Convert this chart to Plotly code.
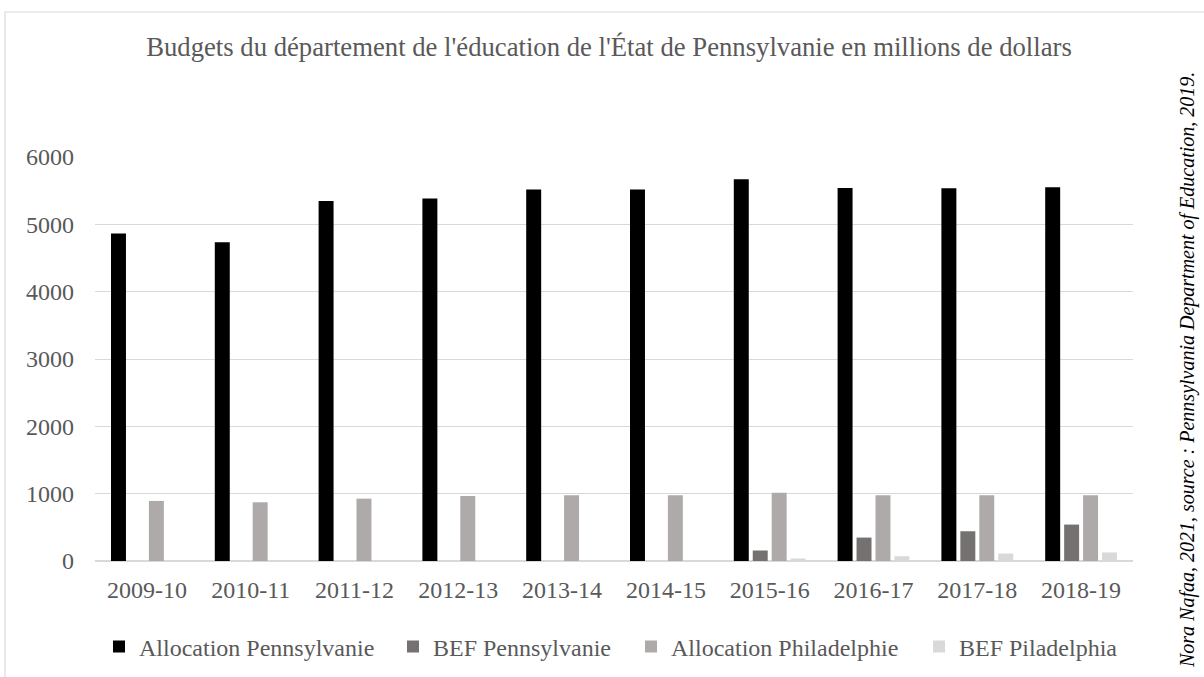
import plotly.graph_objects as go

years = ["2009-10", "2010-11", "2011-12", "2012-13", "2013-14",
         "2014-15", "2015-16", "2016-17", "2017-18", "2018-19"]
alloc_pa = [4864, 4735, 5348, 5383, 5516, 5516, 5669, 5540, 5536, 5551]
bef_pa = [None, None, None, None, None, None, 156, 348, 442, 541]
alloc_phil = [892, 872, 926, 966, 975, 975, 1015, 975, 975, 975]
bef_phil = [None, None, None, None, None, None, 37, 71, 111, 127]

names = ["Allocation Pennsylvanie", "BEF Pennsylvanie",
         "Allocation Philadelphie", "BEF Piladelphia"]
colors = ["#000000", "#767171", "#AEAAAA", "#D9D9D9"]
series = [alloc_pa, bef_pa, alloc_phil, bef_phil]
legend_ids = ["legend", "legend2", "legend3", "legend4"]
legend_x = [99, 393, 631, 919]  # px positions of legend entries

W, H = 1204, 677
L, R, T, B = 95, 71, 157, 116

fig = go.Figure()
for n, c, s, lg in zip(names, colors, series, legend_ids):
    fig.add_trace(go.Bar(x=years, y=s, name=n, marker_color=c,
                         marker_line_width=0, legend=lg))

font = "Liberation Serif, Times New Roman, serif"
txt = "#595959"

layout = dict(
    width=W, height=H,
    margin=dict(l=L, r=R, t=T, b=B, pad=0, autoexpand=False),
    paper_bgcolor="white", plot_bgcolor="white",
    font=dict(family=font, size=24, color=txt),
    title=dict(text="Budgets du département de l'éducation de l'État de Pennsylvanie en millions de dollars",
               x=609 / W, xref="container", xanchor="center",
               y=1 - 47 / H, yref="container", yanchor="middle",
               font=dict(family=font, size=26.7, color=txt)),
    barmode="group", bargap=0.27, bargroupgap=0.21,
    xaxis=dict(type="category", showgrid=False, ticks="", showline=False,
               tickfont=dict(size=24, color=txt), ticklabelstandoff=12),
    yaxis=dict(range=[0, 6000], tickvals=[0, 1000, 2000, 3000, 4000, 5000, 6000],
               showgrid=True, gridcolor="#D9D9D9", gridwidth=1,
               zeroline=True, zerolinecolor="#D9D9D9", zerolinewidth=1.5,
               ticks="", tickfont=dict(size=24, color=txt), ticklabelstandoff=20),
    showlegend=True,
)
for lg, lx in zip(legend_ids, legend_x):
    layout[lg] = dict(orientation="h", x=lx / W, xref="container", xanchor="left",
                      y=1 - 647 / H, yref="container", yanchor="middle",
                      font=dict(family=font, size=24, color=txt),
                      bgcolor="rgba(0,0,0,0)", borderwidth=0)
fig.update_layout(**layout)

pw, ph = W - L - R, H - T - B
def px(xp):
    return (xp - L) / pw
def py(yp):
    return (H - B - yp) / ph

# outer chart frame (light gray)
fig.add_shape(type="rect", xref="paper", yref="paper",
              x0=px(5), x1=px(1215), y0=py(690), y1=py(12),
              line=dict(color="#D9D9D9", width=1.2), fillcolor="rgba(0,0,0,0)", layer="below")

fig.add_annotation(text="<i>Nora Nafaa, 2021, source : Pennsylvania Department of Education, 2019.</i>",
                   xref="paper", yref="paper", x=px(1187), y=py(370),
                   xanchor="center", yanchor="middle", textangle=-90, showarrow=False,
                   font=dict(family=font, size=20, color="#000000"))

fig.write_html("out.html", config={"displayModeBar": False},
               post_script="document.body.style.margin='0px';document.body.style.overflow='hidden';")
